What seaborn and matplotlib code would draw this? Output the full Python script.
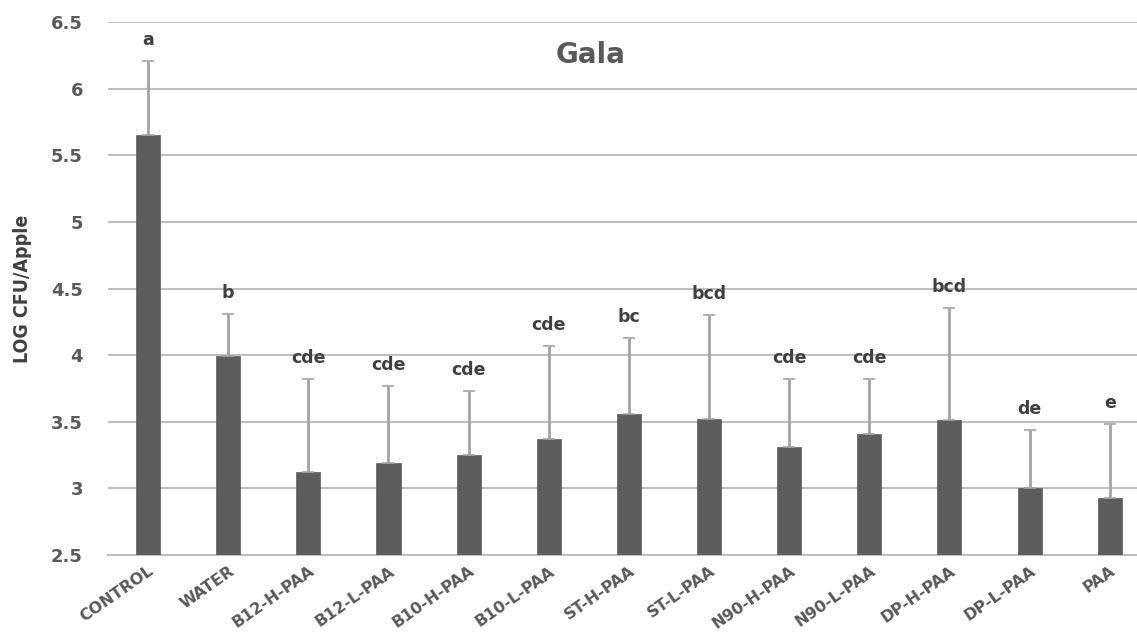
import matplotlib
matplotlib.use("Agg")
import matplotlib.pyplot as plt
import seaborn as sns
import pandas as pd
import numpy as np

categories = ["CONTROL", "WATER", "B12-H-PAA", "B12-L-PAA", "B10-H-PAA", "B10-L-PAA",
              "ST-H-PAA", "ST-L-PAA", "N90-H-PAA", "N90-L-PAA", "DP-H-PAA", "DP-L-PAA", "PAA"]
means = [5.65, 3.99, 3.12, 3.19, 3.25, 3.37, 3.56, 3.52, 3.31, 3.41, 3.51, 3.00, 2.93]
errors = [0.56, 0.32, 0.70, 0.58, 0.48, 0.70, 0.57, 0.78, 0.51, 0.41, 0.84, 0.44, 0.55]
letters = ["a", "b", "cde", "cde", "cde", "cde", "bc", "bcd", "cde", "cde", "bcd", "de", "e"]
yticks = [2.5, 3, 3.5, 4, 4.5, 5, 5.5, 6, 6.5]
ytick_labels = ["2.5", "3", "3.5", "4", "4.5", "5", "5.5", "6", "6.5"]

sns.set_theme(style="white")
plt.rcParams['font.family'] = ['DejaVu Sans']

df = pd.DataFrame({"Treatment": categories, "Mean": means})

fig = plt.figure(figsize=(11.37, 6.39), dpi=100)
ax = fig.add_axes([108/1137, 1 - 555/639, 1 - 108/1137, (555 - 22)/639])

sns.barplot(data=df, x="Treatment", y="Mean", color="#5d5d5d", width=0.30,
            saturation=1, ax=ax, zorder=3, edgecolor="#5d5d5d", linewidth=0.5)

x = np.arange(len(categories))
ax.errorbar(x, means, yerr=[np.zeros(len(errors)), errors], fmt="none",
            ecolor="#a3a3a3", elinewidth=2, capsize=4, capthick=1.2, zorder=4)

for xi, m, e, lab in zip(x, means, errors, letters):
    ax.text(xi, m + e + 0.09, lab, ha="center", va="bottom", fontsize=12.5,
            fontweight="bold", color="#404040", zorder=5)

ax.set_ylim(2.5, 6.5)
ax.set_xlim(-0.5, 12.34)
ax.set_yticks(yticks)
ax.set_yticklabels(ytick_labels)
ax.yaxis.grid(True, color="#bfbfbf", linewidth=1.5, zorder=0)
ax.set_axisbelow(True)
for s in ["top", "right", "left"]:
    ax.spines[s].set_visible(False)
ax.spines["bottom"].set_color("#bfbfbf")
ax.spines["bottom"].set_linewidth(1.5)

ax.tick_params(axis="y", length=0, pad=18, labelsize=13, labelcolor="#595959")
ax.tick_params(axis="x", length=0, pad=6, labelsize=11.5, labelcolor="#595959")
for lbl in ax.get_yticklabels():
    lbl.set_fontweight("bold")
ax.set_xticks(x)
ax.set_xticklabels(categories, rotation=35, ha="right", rotation_mode="anchor",
                   fontweight="bold")

ax.set_xlabel("")
ax.set_ylabel("LOG CFU/Apple", fontsize=14, fontweight="bold", color="#404040",
              fontstretch="condensed", labelpad=14)
ax.text(0.469, 0.938, "Gala", transform=ax.transAxes, ha="center", va="center",
        fontsize=20, fontweight="bold", color="#595959")

fig.savefig("out.png", dpi=100)
